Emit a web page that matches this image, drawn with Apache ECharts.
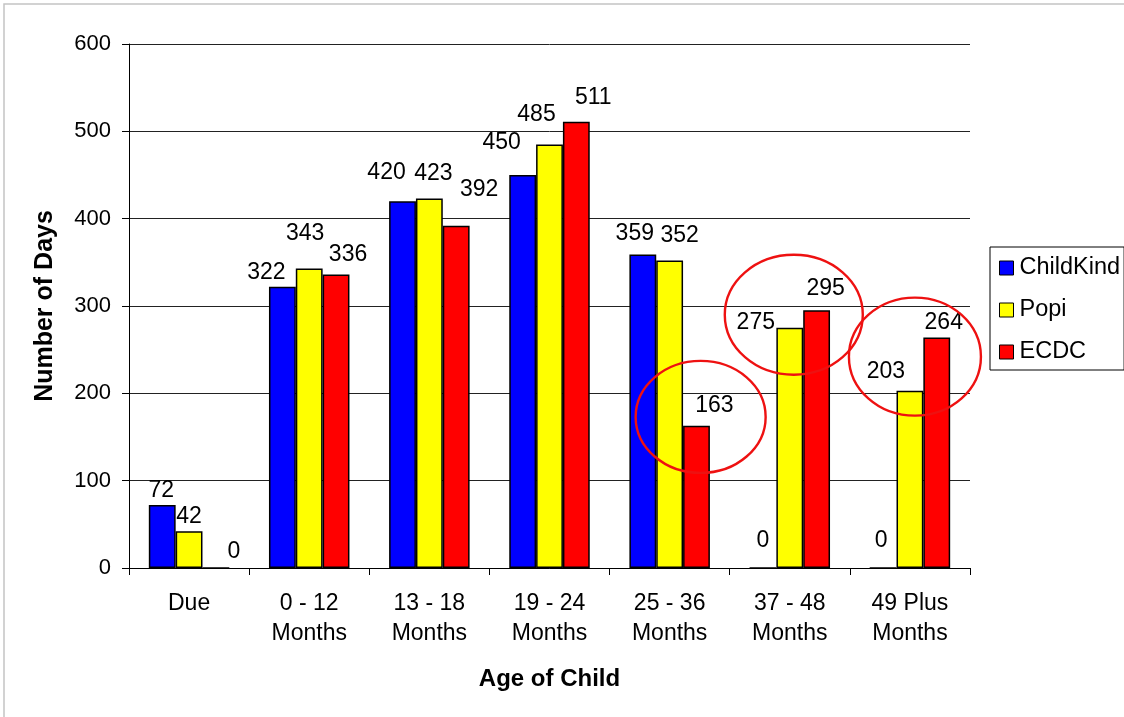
<!DOCTYPE html>
<html>
<head>
<meta charset="utf-8">
<title>Number of Days by Age of Child</title>
<script src="https://cdn.jsdelivr.net/npm/echarts@6/dist/echarts.min.js"></script>
<style>
  html, body { margin: 0; padding: 0; background: #fff; }
  #chart { width: 1124px; height: 717px; }
</style>
</head>
<body>
<div id="chart"></div>
<script>
// Age groups along the x axis
const categories = ['Due', '0 - 12\nMonths', '13 - 18\nMonths', '19 - 24\nMonths', '25 - 36\nMonths', '37 - 48\nMonths', '49 Plus\nMonths'];

// Number of days per provider
const childKind = [72, 322, 420, 450, 359, 0, 0];
const popi      = [42, 343, 423, 485, 352, 275, 203];
const ecdc      = [0, 336, 392, 511, 163, 295, 264];

const seriesNames = ['ChildKind', 'Popi', 'ECDC'];

// Value axis ticks
const yTicks = [0, 100, 200, 300, 400, 500, 600];

// Value labels are nudged apart so neighbouring numbers don't collide
const childKindLabelShift = [[-1, 0], [-16, 0], [-16, -14], [-21, -18], [-8, -6], [0, -12], [-2, -12]];
const popiLabelShift      = [[0, 0], [-4, -20], [4, -10], [-13, -15], [10, -10], [-34, 9], [-24, -5]];
const ecdcLabelShift      = [[18, -1], [12, -5], [23, -21], [17, -10], [18, -5], [9, -7], [7, 0]];

const FONT = 'Arial, "Liberation Sans", sans-serif';

const chart = echarts.init(document.getElementById('chart'), null, { renderer: 'canvas' });

function barSeries(name, values, shifts, color) {
  return {
    name: name,
    type: 'bar',
    data: values.map(function (v, i) {
      return { value: v, label: { offset: shifts[i] } };
    }),
    barGap: '0%',
    barCategoryGap: '33%',
    itemStyle: { color: color, borderColor: '#000', borderWidth: 1.5 },
    label: {
      show: true,
      position: 'top',
      distance: 3,
      color: '#000',
      fontFamily: FONT,
      fontSize: 23
    }
  };
}

chart.setOption({
  animation: false,
  backgroundColor: '#fff',
  grid: { left: 129, right: 154, top: 44, bottom: 149, containLabel: false },
  legend: {
    orient: 'vertical',
    left: 990,
    top: 247,
    padding: [9, 4, 6, 9],
    itemGap: 18,
    itemWidth: 14,
    itemHeight: 14,
    icon: 'rect',
    borderColor: '#000',
    borderWidth: 1,
    itemStyle: { borderColor: '#000', borderWidth: 1 },
    textStyle: { fontFamily: FONT, fontSize: 23.5, color: '#000', padding: [0, 0, 0, 1] },
    data: seriesNames
  },
  xAxis: {
    type: 'category',
    data: categories,
    name: 'Age of Child',
    nameLocation: 'middle',
    nameGap: 99,
    nameTextStyle: { fontFamily: FONT, fontSize: 24, fontWeight: 'bold', color: '#000' },
    axisLine: { lineStyle: { color: '#000', width: 1 } },
    axisTick: { show: true, length: 7, lineStyle: { color: '#000' } },
    axisLabel: {
      fontFamily: FONT, fontSize: 23, color: '#000',
      lineHeight: 30, margin: 21, interval: 0
    }
  },
  yAxis: {
    type: 'value',
    min: yTicks[0],
    max: yTicks[yTicks.length - 1],
    interval: 100,
    name: 'Number of Days',
    nameLocation: 'middle',
    nameGap: 71,
    nameTextStyle: { fontFamily: FONT, fontSize: 25, fontWeight: 'bold', color: '#000' },
    axisLine: { show: true, lineStyle: { color: '#000', width: 1 } },
    axisTick: { show: true, length: 7, lineStyle: { color: '#000' } },
    axisLabel: { fontFamily: FONT, fontSize: 22, color: '#000', margin: 18 },
    splitLine: { show: true, lineStyle: { color: '#222', width: 1 } }
  },
  series: [
    barSeries(seriesNames[0], childKind, childKindLabelShift, '#0000ff'),
    barSeries(seriesNames[1], popi, popiLabelShift, '#ffff00'),
    barSeries(seriesNames[2], ecdc, ecdcLabelShift, '#ff0000')
  ]
});

// Red rings highlighting bars, anchored to a category and a value on the axes
const highlights = [
  { category: 4, value: 173, dx: 31, rx: 65, ry: 56 },
  { category: 5, value: 290, dx: 4,  rx: 69, ry: 60 },
  { category: 6, value: 242, dx: 5,  rx: 66, ry: 59 }
];

const rings = highlights.map(function (h) {
  const p = chart.convertToPixel({ xAxisIndex: 0, yAxisIndex: 0 }, [h.category, h.value]);
  return {
    type: 'ellipse',
    shape: { cx: p[0] + h.dx, cy: p[1], rx: h.rx, ry: h.ry },
    style: { fill: 'none', stroke: '#ee1111', lineWidth: 2.4 },
    z: 100
  };
});

chart.setOption({
  graphic: [
    {
      type: 'rect',
      shape: { x: 4, y: 4, width: 1300, height: 900 },
      style: { fill: 'none', stroke: '#c4c4c4', lineWidth: 1.5 },
      silent: true,
      z: 100
    }
  ].concat(rings)
});
</script>
</body>
</html>
